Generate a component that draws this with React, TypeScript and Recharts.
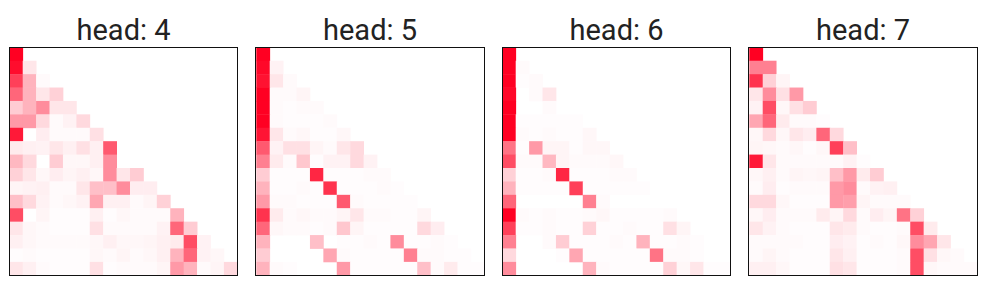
import { ScatterChart, Scatter, XAxis, YAxis } from 'recharts';

// attention weights, row = query position, col = key position (lower triangle only)
const head4: number[][] = [
  [1.0],
  [0.95, 0.1],
  [0.75, 0.3, 0.02],
  [0.6, 0.3, 0.1, 0.18],
  [0.2, 0.3, 0.45, 0.1, 0.1],
  [0.4, 0.4, 0.15, 0.02, 0.05, 0.15],
  [0.9, 0, 0.07, 0.02, 0.02, 0.02, 0.12],
  [0.08, 0.06, 0.05, 0.1, 0.06, 0.12, 0.06, 0.65],
  [0.28, 0.15, 0, 0.2, 0.03, 0.03, 0.06, 0.45, 0],
  [0.18, 0.1, 0.03, 0.07, 0.04, 0.06, 0.03, 0.45, 0.1, 0.2],
  [0.04, 0.05, 0.06, 0.02, 0.02, 0.1, 0.25, 0.25, 0.45, 0.07, 0.07],
  [0.25, 0.15, 0.05, 0.02, 0.03, 0.05, 0.35, 0.06, 0.06, 0.02, 0.04, 0.18],
  [0.7, 0, 0.04, 0.01, 0.01, 0.01, 0.06, 0.01, 0.03, 0.02, 0.02, 0.02, 0.3],
  [0.1, 0.03, 0.02, 0.01, 0.01, 0.01, 0.12, 0.02, 0.02, 0.02, 0.02, 0.05, 0.6, 0.2],
  [0.06, 0.03, 0.02, 0.02, 0.02, 0.02, 0.03, 0.06, 0.03, 0.03, 0.04, 0.06, 0.08, 0.7, 0.05],
  [0.01, 0.02, 0.01, 0.01, 0.01, 0.01, 0.03, 0.02, 0.04, 0.02, 0.03, 0.06, 0.3, 0.6, 0.05, 0.03],
  [0.1, 0.06, 0.02, 0.01, 0.01, 0.01, 0.12, 0.01, 0.02, 0.02, 0.02, 0.04, 0.4, 0.3, 0.02, 0.04, 0.15],
];

const head5: number[][] = [
  [1.0],
  [0.97, 0.05],
  [0.93, 0.1, 0.02],
  [1.0, 0.02, 0.02, 0.04],
  [1.0, 0.02, 0.01, 0.02, 0.02],
  [1.0, 0.02, 0.01, 0.01, 0.01, 0.02],
  [0.92, 0.1, 0.02, 0.03, 0.01, 0.01, 0.03],
  [0.65, 0.05, 0.12, 0.12, 0.04, 0.02, 0.1, 0.15],
  [0.5, 0.08, 0.02, 0.22, 0.01, 0.05, 0.05, 0.15, 0.05],
  [0.2, 0.01, 0.01, 0.01, 0.85, 0.01, 0.01, 0.01, 0.02, 0.02],
  [0.3, 0.01, 0.01, 0.02, 0.01, 0.8, 0.01, 0.01, 0.01, 0.02, 0.01],
  [0.4, 0.02, 0.02, 0.01, 0.01, 0.01, 0.65, 0.02, 0.01, 0.01, 0.01, 0.01],
  [0.8, 0.08, 0.02, 0.03, 0.02, 0.02, 0.04, 0.1, 0.02, 0.02, 0.01, 0.01, 0.04],
  [0.6, 0.03, 0.02, 0.02, 0.01, 0.02, 0.22, 0.04, 0.01, 0.01, 0.01, 0.01, 0.15, 0.07],
  [0.3, 0, 0, 0, 0.25, 0, 0.01, 0.01, 0.02, 0.01, 0.45, 0.01, 0.01, 0.02, 0.01],
  [0.2, 0, 0, 0, 0, 0.35, 0.02, 0.01, 0.01, 0.01, 0.01, 0.5, 0.02, 0.02, 0.01, 0.01],
  [0.3, 0.02, 0.01, 0, 0, 0, 0.4, 0.01, 0.01, 0.01, 0.01, 0.01, 0.25, 0.02, 0.08, 0.01, 0.01],
];

const head6: number[][] = [
  [1.0],
  [1.0, 0.02],
  [1.0, 0.01, 0.02],
  [0.97, 0, 0.02, 0.1],
  [1.0, 0, 0, 0.02, 0],
  [1.0, 0.01, 0.01, 0.01, 0.01, 0.01],
  [1.0, 0.02, 0.01, 0.02, 0.01, 0.01, 0.03],
  [0.55, 0.01, 0.4, 0.04, 0.04, 0.01, 0.03, 0.03],
  [0.7, 0.02, 0.02, 0.28, 0.04, 0.02, 0.02, 0.02, 0.03],
  [0.18, 0.01, 0.01, 0.02, 0.85, 0.01, 0.01, 0.01, 0.02, 0.02],
  [0.3, 0.01, 0.01, 0.01, 0.01, 0.75, 0.01, 0.01, 0.01, 0.01, 0.01],
  [0.6, 0, 0, 0, 0, 0, 0.5, 0.02, 0, 0, 0, 0],
  [1.0, 0.02, 0.01, 0.02, 0.01, 0.01, 0.02, 0.03, 0.01, 0.01, 0.01, 0.01, 0.02],
  [0.75, 0.01, 0.01, 0.02, 0.01, 0.01, 0.18, 0.01, 0.01, 0.02, 0.01, 0.01, 0.12, 0.04],
  [0.5, 0, 0, 0.02, 0.2, 0.01, 0.01, 0.01, 0.02, 0.01, 0.3, 0.01, 0.01, 0.02, 0.01],
  [0.15, 0, 0, 0, 0.01, 0.35, 0.01, 0.01, 0.01, 0.01, 0.01, 0.55, 0.02, 0.02, 0.01, 0],
  [0.45, 0, 0, 0, 0, 0, 0.3, 0.02, 0.01, 0.01, 0.01, 0.01, 0.18, 0.03, 0.1, 0.01, 0.01],
];

const head7: number[][] = [
  [1.0],
  [0.5, 0.5],
  [0.8, 0.18, 0.04],
  [0.1, 0.45, 0.12, 0.4],
  [0.05, 0.7, 0.03, 0.12, 0.2],
  [0.35, 0.6, 0.08, 0.02, 0.02, 0.01],
  [0.03, 0.15, 0.03, 0.1, 0.07, 0.6, 0.15],
  [0.04, 0.03, 0.02, 0.03, 0.01, 0.03, 0.75, 0.25],
  [0.9, 0.1, 0.02, 0.02, 0.02, 0.02, 0.02, 0.05, 0.01],
  [0.03, 0.06, 0.02, 0.04, 0.03, 0.04, 0.25, 0.4, 0.08, 0.2],
  [0.02, 0.07, 0.01, 0.02, 0.02, 0.02, 0.4, 0.45, 0.02, 0.05, 0.06],
  [0.15, 0.15, 0.03, 0.01, 0.01, 0.01, 0.4, 0.38, 0.04, 0.02, 0.02, 0.02],
  [0.03, 0.07, 0.02, 0.02, 0.02, 0.08, 0.04, 0.15, 0.02, 0.07, 0.04, 0.55, 0.18],
  [0.1, 0.05, 0.02, 0.01, 0.01, 0.01, 0.1, 0.08, 0.02, 0.01, 0.01, 0.02, 0.7, 0.08],
  [0.02, 0.02, 0.02, 0.02, 0.01, 0.01, 0.07, 0.05, 0.01, 0.02, 0.01, 0.03, 0.45, 0.35, 0.1],
  [0.02, 0.04, 0.02, 0.01, 0.01, 0.01, 0.1, 0.06, 0.01, 0.01, 0.01, 0.02, 0.7, 0.12, 0.03, 0.02],
  [0.06, 0.06, 0.03, 0.01, 0.01, 0.01, 0.12, 0.1, 0.01, 0.01, 0.01, 0.02, 0.7, 0.03, 0.02, 0.02, 0.02],
];

const heads = [
  { title: 'head: 4', rows: head4 },
  { title: 'head: 5', rows: head5 },
  { title: 'head: 6', rows: head6 },
  { title: 'head: 7', rows: head7 },
];

const N = 17;
const PLOT = 228;
const CELL = PLOT / N;
const LEFT = 9.5;
const TOP = 47.5;

// white -> red
function heat(v: number) {
  const t = Math.max(0, Math.min(1, v));
  const g = Math.round(255 * (1 - t));
  const b = Math.round(255 - (255 - 34) * t);
  return `rgb(255,${g},${b})`;
}

function Cell(props: any) {
  const { cx, cy, payload } = props;
  if (cx == null || cy == null) return null;
  return (
    <rect
      x={cx - CELL / 2 - 0.2}
      y={cy - CELL / 2 - 0.2}
      width={CELL + 0.4}
      height={CELL + 0.4}
      fill={heat(payload.v)}
    />
  );
}

function Panel({ title, rows }: { title: string; rows: number[][] }) {
  const points: { x: number; y: number; v: number }[] = [];
  rows.forEach((row, r) =>
    row.forEach((v, c) => {
      if (v > 0) points.push({ x: c + 0.5, y: r + 0.5, v });
    }),
  );

  return (
    <div style={{ position: 'relative', width: 246.5, height: 300 }}>
      <div
        style={{
          position: 'absolute',
          left: LEFT,
          width: PLOT,
          top: 15.5,
          textAlign: 'center',
          fontFamily: 'Roboto',
          fontSize: 29,
          lineHeight: '29px',
          color: '#222',
        }}
      >
        {title}
      </div>
      <ScatterChart
        width={246.5}
        height={300}
        margin={{ top: TOP, left: LEFT, right: 246.5 - LEFT - PLOT, bottom: 300 - TOP - PLOT }}
      >
        <XAxis type="number" dataKey="x" domain={[0, N]} hide />
        <YAxis type="number" dataKey="y" domain={[0, N]} reversed hide />
        <Scatter data={points} shape={Cell} isAnimationActive={false} />
      </ScatterChart>
      <div
        style={{
          position: 'absolute',
          left: LEFT - 0.7,
          top: TOP - 0.7,
          width: PLOT + 1.4,
          height: PLOT + 1.4,
          border: '1.4px solid #111',
          boxSizing: 'border-box',
          pointerEvents: 'none',
        }}
      />
    </div>
  );
}

export default function App() {
  return (
    <div
      style={{
        position: 'absolute',
        left: 0,
        top: 0,
        width: 990,
        height: 300,
        background: '#fff',
        display: 'flex',
      }}
    >
      {heads.map((h) => (
        <Panel key={h.title} title={h.title} rows={h.rows} />
      ))}
    </div>
  );
}
